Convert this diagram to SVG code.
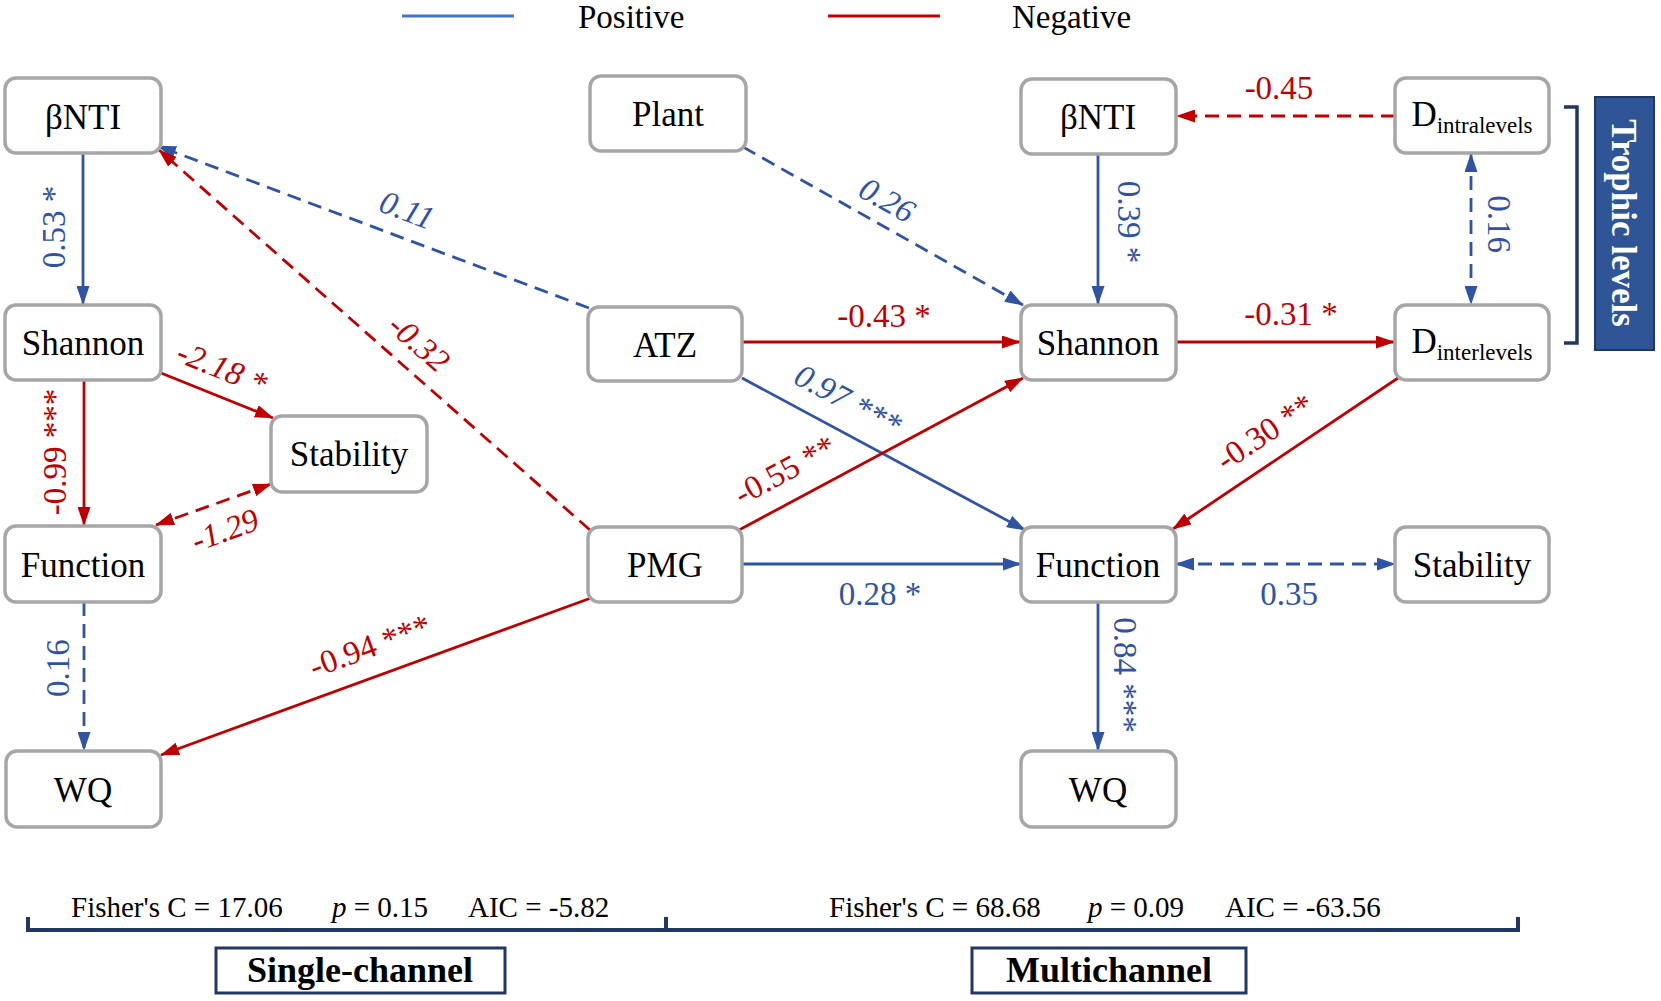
<svg xmlns="http://www.w3.org/2000/svg" width="1661" height="1001" viewBox="0 0 1661 1001">
<style>
.node rect{fill:#fff;stroke:#a6a6a6;stroke-width:3.5}
.nt{font-family:"Liberation Serif","Times New Roman",serif;font-size:35px;fill:#000;text-anchor:middle}
.sub{font-size:23px}
.lb{font-family:"Liberation Serif","Times New Roman",serif;font-size:33px;text-anchor:middle}
.it{font-style:italic}
.bl{fill:#2e54a3}
.rd{fill:#c00000}
.eb{stroke:#2e54a3;stroke-width:2.8;fill:none}
.er{stroke:#c00000;stroke-width:2.8;fill:none}
.d{stroke-dasharray:14 8}
.fb{marker-end:url(#ab)}
.fr{marker-end:url(#ar)}
.bb{marker-start:url(#ab);marker-end:url(#ab)}
.br{marker-start:url(#ar);marker-end:url(#ar)}
.stat{font-family:"Liberation Serif","Times New Roman",serif;font-size:29px;fill:#000}
.title{font-family:"Liberation Serif","Times New Roman",serif;font-size:36px;font-weight:bold;text-anchor:middle;fill:#000}
.navy{stroke:#1f3864;fill:none}
</style>
<defs>
<marker id="ab" markerUnits="userSpaceOnUse" markerWidth="19" markerHeight="13" refX="18" refY="6.5" orient="auto-start-reverse"><path d="M0,0 L19,6.5 L0,13 z" fill="#2e54a3"/></marker>
<marker id="ar" markerUnits="userSpaceOnUse" markerWidth="19" markerHeight="13" refX="18" refY="6.5" orient="auto-start-reverse"><path d="M0,0 L19,6.5 L0,13 z" fill="#c00000"/></marker>
</defs>
<rect width="1661" height="1001" fill="#fff"/>

<g id="legend">
<line x1="402" y1="16" x2="514" y2="16" stroke="#4472c4" stroke-width="3"/>
<text class="stat" x="578" y="28" style="font-size:33px">Positive</text>
<line x1="828" y1="16" x2="940" y2="16" stroke="#c00000" stroke-width="3"/>
<text class="stat" x="1012" y="28" style="font-size:33px">Negative</text>
</g>

<g id="connectors">
<line class="eb fb" x1="83" y1="153" x2="83" y2="304"/>
<line class="eb d fb" x1="589" y1="308" x2="158" y2="146"/>
<line class="er d fr" x1="590" y1="530" x2="159" y2="150"/>
<line class="er fr" x1="161" y1="373" x2="273" y2="418"/>
<line class="er fr" x1="84" y1="380" x2="84" y2="525"/>
<line class="er d br" x1="271" y1="484" x2="156" y2="525"/>
<line class="eb d fb" x1="84" y1="602" x2="84" y2="750"/>
<line class="er fr" x1="591" y1="598" x2="161" y2="755"/>
<line class="eb d fb" x1="743" y1="147" x2="1023" y2="305"/>
<line class="eb fb" x1="1098" y1="154" x2="1098" y2="304"/>
<line class="er d fr" x1="1395" y1="116" x2="1177" y2="116"/>
<line class="eb d bb" x1="1471" y1="154" x2="1471" y2="304"/>
<line class="er fr" x1="742" y1="342" x2="1020" y2="342"/>
<line class="er fr" x1="1176" y1="342" x2="1394" y2="342"/>
<line class="eb fb" x1="742" y1="378" x2="1025" y2="530"/>
<line class="er fr" x1="739" y1="530" x2="1023" y2="378"/>
<line class="eb fb" x1="742" y1="564" x2="1021" y2="564"/>
<line class="er fr" x1="1398" y1="378" x2="1173" y2="529"/>
<line class="eb d bb" x1="1176" y1="564" x2="1395" y2="564"/>
<line class="eb fb" x1="1098" y1="602" x2="1098" y2="750"/>
</g>

<g id="edge-labels">
<text class="lb bl" transform="translate(54,227) rotate(-90)" y="11">0.53 *</text>
<text class="lb bl it" transform="translate(407,210) rotate(20.7)" y="11">0.11</text>
<text class="lb rd it" transform="translate(419,343) rotate(41.4)" y="11">-0.32</text>
<text class="lb rd it" transform="translate(222,368) rotate(21.9)" y="11">-2.18 *</text>
<text class="lb rd" transform="translate(55,452) rotate(-90)" y="11">-0.99 ***</text>
<text class="lb rd it" transform="translate(225,530) rotate(-19.6)" y="11">-1.29</text>
<text class="lb bl" transform="translate(58,668) rotate(-90)" y="11">0.16</text>
<text class="lb rd" transform="translate(370,646) rotate(-20)" y="11">-0.94 ***</text>
<text class="lb bl it" transform="translate(887,200) rotate(29.4)" y="11">0.26</text>
<text class="lb bl" transform="translate(1129,222) rotate(90)" y="11">0.39 *</text>
<text class="lb rd" x="1279" y="99">-0.45</text>
<text class="lb bl" transform="translate(1499,224) rotate(90)" y="11">0.16</text>
<text class="lb rd" x="884" y="327">-0.43 *</text>
<text class="lb rd" x="1291" y="325">-0.31 *</text>
<text class="lb bl it" transform="translate(848,400) rotate(28.2)" y="11">0.97 ***</text>
<text class="lb rd" transform="translate(785,470) rotate(-28.2)" y="11">-0.55 **</text>
<text class="lb bl" x="880" y="605">0.28 *</text>
<text class="lb rd" transform="translate(1265,432) rotate(-33.9)" y="11">-0.30 **</text>
<text class="lb bl" x="1289" y="605">0.35</text>
<text class="lb bl" transform="translate(1125,675) rotate(90)" y="11">0.84 ***</text>
</g>

<g id="node-bnti-l" class="node"><rect x="5" y="78" width="156" height="75" rx="11"/><text class="nt" x="83" y="129">βNTI</text></g>
<g id="node-shannon-l" class="node"><rect x="5" y="305" width="156" height="75" rx="11"/><text class="nt" x="83" y="355">Shannon</text></g>
<g id="node-function-l" class="node"><rect x="5" y="526" width="156" height="76" rx="11"/><text class="nt" x="83" y="577">Function</text></g>
<g id="node-wq-l" class="node"><rect x="6" y="751" width="155" height="76" rx="11"/><text class="nt" x="83" y="802">WQ</text></g>
<g id="node-stability-l" class="node"><rect x="271" y="416" width="156" height="76" rx="11"/><text class="nt" x="349" y="466">Stability</text></g>
<g id="node-plant" class="node"><rect x="590" y="76" width="156" height="75" rx="11"/><text class="nt" x="668" y="126">Plant</text></g>
<g id="node-atz" class="node"><rect x="588" y="307" width="154" height="74" rx="11"/><text class="nt" x="665" y="357">ATZ</text></g>
<g id="node-pmg" class="node"><rect x="588" y="527" width="154" height="75" rx="11"/><text class="nt" x="665" y="577">PMG</text></g>
<g id="node-bnti-r" class="node"><rect x="1021" y="79" width="155" height="75" rx="11"/><text class="nt" x="1098" y="129">βNTI</text></g>
<g id="node-shannon-r" class="node"><rect x="1021" y="305" width="155" height="75" rx="11"/><text class="nt" x="1098" y="355">Shannon</text></g>
<g id="node-function-r" class="node"><rect x="1021" y="527" width="155" height="75" rx="11"/><text class="nt" x="1098" y="577">Function</text></g>
<g id="node-wq-r" class="node"><rect x="1021" y="751" width="155" height="76" rx="11"/><text class="nt" x="1098" y="802">WQ</text></g>
<g id="node-dintra" class="node"><rect x="1395" y="78" width="154" height="75" rx="11"/><text class="nt" x="1472" y="126">D<tspan class="sub" dy="7">intralevels</tspan></text></g>
<g id="node-dinter" class="node"><rect x="1395" y="305" width="154" height="75" rx="11"/><text class="nt" x="1472" y="353">D<tspan class="sub" dy="7">interlevels</tspan></text></g>
<g id="node-stability-r" class="node"><rect x="1395" y="527" width="154" height="75" rx="11"/><text class="nt" x="1472" y="577">Stability</text></g>

<g id="trophic">
<path class="navy" d="M1564,107 H1577 V343 H1564" stroke-width="3.5"/>
<rect x="1595" y="97" width="59" height="253" fill="#2f5597" stroke="#1f3864" stroke-width="2"/>
<text transform="translate(1624,223) rotate(90)" y="12" style="font-family:'Liberation Serif','Times New Roman',serif;font-size:35px;font-weight:bold;fill:#fff;text-anchor:middle">Trophic levels</text>
</g>

<g id="footer">
<path class="navy" d="M28,917 V930 H1518 V917 M666,917 V930" stroke-width="4"/>
<text class="stat" x="71" y="917">Fisher's C = 17.06</text>
<text class="stat" x="332" y="917"><tspan font-style="italic">p</tspan> = 0.15</text>
<text class="stat" x="468" y="917">AIC = -5.82</text>
<text class="stat" x="829" y="917">Fisher's C = 68.68</text>
<text class="stat" x="1088" y="917"><tspan font-style="italic">p</tspan> = 0.09</text>
<text class="stat" x="1225" y="917">AIC = -63.56</text>
<rect x="216" y="948" width="289" height="45" fill="#fff" stroke="#1f3864" stroke-width="3"/>
<text class="title" x="360" y="982">Single-channel</text>
<rect x="972" y="948" width="274" height="45" fill="#fff" stroke="#1f3864" stroke-width="3"/>
<text class="title" x="1109" y="982">Multichannel</text>
</g>
</svg>
